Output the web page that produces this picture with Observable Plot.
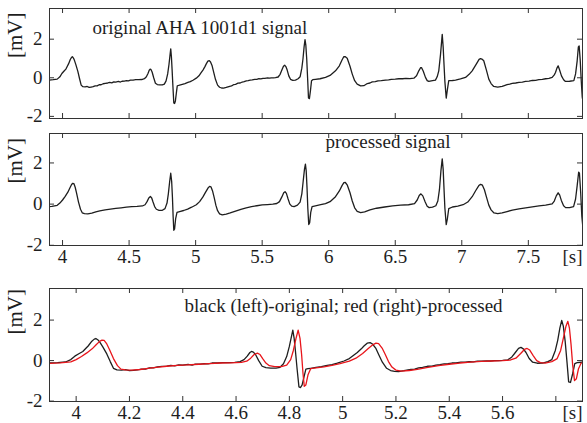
<!DOCTYPE html>
<html>
<head>
<meta charset="utf-8">
<script src="https://cdn.jsdelivr.net/npm/d3@7"></script>
<script src="https://cdn.jsdelivr.net/npm/@observablehq/plot@0.6"></script>
<style>
  body { margin: 0; background: #fff; }
  #chart { width: 587px; height: 423px; position: relative; }
  #chart svg { display: block; }
</style>
</head>
<body>
<div id="chart"></div>
<script>
// ---- data (time in s, amplitude in mV) ----
const origT = [3.900,3.930,3.960,3.980,3.995,4.010,4.025,4.034,4.045,4.059,4.068,4.074,4.082,4.090,4.100,4.115,4.128,4.140,4.153,4.170,4.185,4.200,4.215,4.230,4.245,4.260,4.275,4.290,4.305,4.322,4.340,4.355,4.370,4.385,4.400,4.420,4.435,4.447,4.465,4.480,4.495,4.510,4.530,4.550,4.573,4.595,4.615,4.630,4.642,4.652,4.658,4.665,4.673,4.685,4.698,4.712,4.730,4.750,4.765,4.778,4.790,4.800,4.808,4.813,4.818,4.823,4.829,4.836,4.842,4.848,4.855,4.862,4.870,4.880,4.900,4.920,4.942,4.960,4.980,5.005,5.025,5.040,5.055,5.070,5.080,5.092,5.103,5.112,5.124,5.136,5.149,5.165,5.180,5.195,5.210,5.230,5.256,5.270,5.285,5.300,5.318,5.335,5.350,5.365,5.381,5.395,5.410,5.425,5.444,5.460,5.475,5.490,5.506,5.520,5.540,5.555,5.569,5.585,5.600,5.620,5.635,5.648,5.660,5.669,5.678,5.688,5.700,5.713,5.730,5.750,5.770,5.785,5.798,5.807,5.815,5.822,5.828,5.835,5.842,5.848,5.855,5.863,5.871,5.880,5.900,5.935,5.976,6.010,6.051,6.080,6.100,6.114,6.125,6.139,6.160,6.177,6.195,6.214,6.240,6.264,6.290,6.310,6.327,6.350,6.370,6.395,6.427,6.450,6.470,6.500,6.527,6.555,6.580,6.610,6.640,6.660,6.677,6.690,6.697,6.710,6.727,6.740,6.752,6.780,6.802,6.815,6.827,6.840,6.853,6.860,6.865,6.873,6.883,6.892,6.902,6.930,6.953,6.990,7.028,7.055,7.078,7.110,7.130,7.141,7.155,7.165,7.185,7.203,7.220,7.240,7.270,7.303,7.320,7.340,7.360,7.379,7.405,7.430,7.455,7.479,7.505,7.530,7.555,7.579,7.605,7.630,7.655,7.679,7.695,7.704,7.715,7.724,7.735,7.749,7.765,7.779,7.810,7.842,7.855,7.867,7.876,7.882,7.890,7.898,7.905,7.910];
const origV = [-0.12,-0.10,-0.07,0.05,0.22,0.34,0.45,0.57,0.72,0.96,1.06,1.09,1.02,0.89,0.68,0.33,-0.05,-0.38,-0.46,-0.47,-0.45,-0.50,-0.48,-0.46,-0.42,-0.42,-0.36,-0.36,-0.31,-0.29,-0.27,-0.24,-0.26,-0.21,-0.22,-0.19,-0.22,-0.18,-0.17,-0.15,-0.16,-0.12,-0.12,-0.10,-0.10,-0.09,-0.05,0.05,0.22,0.40,0.45,0.42,0.30,0.00,-0.28,-0.35,-0.37,-0.37,-0.33,-0.16,0.20,0.70,1.20,1.50,1.10,0.45,-0.40,-1.30,-1.33,-1.20,-0.80,-0.42,-0.40,-0.38,-0.34,-0.30,-0.24,-0.20,-0.13,-0.02,0.10,0.25,0.40,0.58,0.72,0.86,0.89,0.82,0.62,0.28,-0.08,-0.38,-0.49,-0.53,-0.54,-0.50,-0.44,-0.42,-0.36,-0.34,-0.28,-0.27,-0.22,-0.20,-0.16,-0.15,-0.12,-0.11,-0.08,-0.08,-0.05,-0.06,-0.03,-0.03,-0.01,-0.02,0.00,0.00,0.01,0.04,0.18,0.40,0.60,0.65,0.58,0.40,0.10,-0.08,-0.13,-0.12,-0.05,0.05,0.50,1.00,1.60,1.98,1.70,0.95,-0.10,-1.05,-1.08,-0.65,-0.15,-0.10,-0.08,-0.05,0.02,0.12,0.36,0.62,0.92,1.10,1.09,1.01,0.60,0.19,-0.15,-0.33,-0.42,-0.41,-0.30,-0.27,-0.21,-0.20,-0.16,-0.15,-0.12,-0.11,-0.08,-0.07,-0.05,-0.05,-0.03,-0.04,-0.02,0.10,0.36,0.52,0.53,0.35,0.02,-0.15,-0.19,-0.15,-0.12,0.05,0.36,1.20,2.25,1.60,0.88,-0.20,-1.05,-0.60,-0.15,-0.14,-0.12,-0.06,0.02,0.18,0.36,0.72,0.95,0.99,0.95,0.88,0.40,-0.07,-0.30,-0.45,-0.48,-0.45,-0.41,-0.36,-0.33,-0.29,-0.27,-0.24,-0.22,-0.19,-0.17,-0.14,-0.13,-0.10,-0.08,-0.05,-0.03,0.02,0.15,0.27,0.50,0.62,0.40,0.10,-0.10,-0.19,-0.18,-0.15,0.20,0.88,1.60,1.65,0.90,-0.20,-1.00,-1.20];

const procT = [3.880,3.920,3.960,3.980,4.000,4.020,4.040,4.055,4.068,4.077,4.085,4.095,4.105,4.120,4.135,4.148,4.165,4.190,4.220,4.250,4.280,4.320,4.360,4.400,4.440,4.480,4.520,4.560,4.600,4.620,4.635,4.648,4.660,4.670,4.680,4.692,4.705,4.725,4.750,4.770,4.785,4.795,4.805,4.813,4.820,4.826,4.831,4.836,4.842,4.850,4.860,4.880,4.910,4.940,4.970,5.005,5.030,5.055,5.075,5.093,5.105,5.115,5.128,5.140,5.152,5.165,5.180,5.200,5.230,5.260,5.300,5.340,5.380,5.420,5.460,5.500,5.540,5.580,5.610,5.630,5.648,5.662,5.672,5.682,5.695,5.708,5.722,5.740,5.765,5.785,5.798,5.808,5.818,5.825,5.831,5.837,5.843,5.850,5.857,5.865,5.875,5.900,5.940,5.976,6.010,6.051,6.080,6.100,6.114,6.125,6.140,6.160,6.177,6.195,6.214,6.240,6.270,6.310,6.360,6.420,6.480,6.540,6.600,6.645,6.665,6.680,6.693,6.707,6.725,6.740,6.755,6.780,6.805,6.820,6.832,6.843,6.853,6.860,6.866,6.873,6.883,6.892,6.902,6.930,6.970,7.010,7.045,7.078,7.105,7.128,7.141,7.155,7.170,7.185,7.203,7.220,7.242,7.270,7.303,7.340,7.380,7.430,7.480,7.530,7.580,7.630,7.679,7.695,7.710,7.724,7.735,7.748,7.765,7.780,7.810,7.840,7.855,7.867,7.878,7.884,7.893,7.902,7.910];
const procV = [-0.14,-0.11,-0.06,0.05,0.20,0.38,0.58,0.78,0.95,1.01,1.00,0.82,0.55,0.10,-0.25,-0.42,-0.46,-0.47,-0.44,-0.38,-0.33,-0.28,-0.24,-0.21,-0.18,-0.15,-0.12,-0.11,-0.09,-0.03,0.12,0.30,0.37,0.30,0.10,-0.12,-0.25,-0.30,-0.30,-0.22,0.05,0.50,1.10,1.50,1.10,0.30,-0.60,-1.27,-1.20,-0.70,-0.40,-0.36,-0.31,-0.24,-0.15,-0.03,0.12,0.35,0.58,0.78,0.86,0.84,0.62,0.30,-0.05,-0.32,-0.47,-0.52,-0.49,-0.43,-0.34,-0.25,-0.18,-0.12,-0.08,-0.04,-0.02,0.00,0.03,0.12,0.35,0.55,0.60,0.52,0.25,0.00,-0.10,-0.12,-0.05,0.10,0.50,1.10,1.70,1.94,1.60,0.80,-0.20,-0.99,-0.90,-0.40,-0.12,-0.08,-0.03,0.02,0.12,0.36,0.64,0.90,1.04,1.05,0.92,0.55,0.15,-0.18,-0.35,-0.41,-0.38,-0.28,-0.20,-0.14,-0.09,-0.05,-0.03,0.02,0.20,0.42,0.50,0.40,0.10,-0.10,-0.17,-0.15,-0.08,0.15,0.70,1.60,2.20,1.70,0.80,-0.20,-1.00,-0.70,-0.22,-0.14,-0.10,-0.03,0.10,0.36,0.66,0.90,0.96,0.92,0.70,0.35,-0.05,-0.28,-0.43,-0.46,-0.43,-0.36,-0.29,-0.23,-0.18,-0.13,-0.09,-0.05,0.01,0.15,0.40,0.55,0.45,0.18,-0.08,-0.17,-0.17,-0.12,0.25,0.90,1.55,1.50,0.60,-0.60,-1.14];

// delay of the red (processed) trace as drawn in the bottom panel, s
const redDelay = 0.02;

const xTicksWide = [4, 4.5, 5, 5.5, 6, 6.5, 7, 7.5];
const xLabelsWide = [4, 4.5, 5, 5.5, 6, 6.5, 7, 7.5];
const xTicksZoom = [4, 4.2, 4.4, 4.6, 4.8, 5, 5.2, 5.4, 5.6, 5.8];
const xLabelsZoom = [4, 4.2, 4.4, 4.6, 4.8, 5, 5.2, 5.4, 5.6];
const yTicks = [-2, 0, 2];
const titles = ["original AHA 1001d1 signal", "processed signal", "black (left)-original; red (right)-processed"];
const yLabel = "[mV]";
const xUnit = "[s]";

const orig = origT.map((t, i) => ({t, v: origV[i]}));
const proc = procT.map((t, i) => ({t, v: procV[i]}));

const W = 587, ML = 49, MR = 5;
const FONT = "Liberation Serif";
const INK = "#1e1e1e";

function panel({height, mt, mb, xDomain, yDomain, xTicks, xLabels, labelDy, lines, title, titleDx, titleDy, ylabDy}) {
  const innerH = height - mt - mb;
  const innerW = W - ML - MR;
  const tk = 5;
  const marks = [
    ...lines,
    Plot.frame({stroke: "#333", strokeWidth: 1}),
    Plot.ruleX(xTicks, {x: d => d, insetTop: innerH - tk, stroke: "#333"}),
    Plot.ruleX(xTicks, {x: d => d, insetBottom: innerH - tk, stroke: "#333"}),
    Plot.ruleY(yTicks, {y: d => d, insetRight: innerW - tk, stroke: "#333"}),
    Plot.ruleY(yTicks, {y: d => d, insetLeft: innerW - tk, stroke: "#333"}),
    Plot.text(yTicks, {y: d => d, frameAnchor: "left", dx: -7, textAnchor: "end", text: d => String(d), fill: INK}),
    Plot.text([yLabel], {frameAnchor: "left", dx: -34, dy: ylabDy, rotate: -90, fontSize: 21, text: d => d, fill: INK}),
    Plot.text([title], {frameAnchor: "top-left", dx: titleDx, dy: titleDy, lineAnchor: "top", textAnchor: "start", text: d => d, fill: INK})
  ];
  if (xLabels) {
    marks.push(Plot.text(xLabels, {x: d => d, frameAnchor: "bottom", dy: labelDy, lineAnchor: "top", text: d => String(d), fill: INK}));
    marks.push(Plot.text([xUnit], {frameAnchor: "bottom-right", dx: -10, dy: labelDy, lineAnchor: "top", textAnchor: "middle", text: d => d, fill: INK}));
  }
  return Plot.plot({
    width: W, height,
    marginLeft: ML, marginRight: MR, marginTop: mt, marginBottom: mb,
    x: {domain: xDomain, axis: null},
    y: {domain: yDomain, axis: null},
    style: {fontFamily: FONT, fontSize: "19px", background: "white", overflow: "visible"},
    marks
  });
}

const chart = document.getElementById("chart");

chart.append(panel({
  height: 125, mt: 8, mb: 7,
  xDomain: [3.902, 7.907], yDomain: [-2.11, 3.59],
  xTicks: xTicksWide, xLabels: null, labelDy: 0,
  lines: [Plot.line(orig, {x: "t", y: "v", stroke: INK, strokeWidth: 1.3, clip: true})],
  title: titles[0], titleDx: 43, titleDy: 11.5, ylabDy: -5.5
}));

chart.append(panel({
  height: 155, mt: 8, mb: 35,
  xDomain: [3.902, 7.907], yDomain: [-2.01, 3.43],
  xTicks: xTicksWide, xLabels: xLabelsWide, labelDy: 3.5,
  lines: [Plot.line(proc, {x: "t", y: "v", stroke: INK, strokeWidth: 1.3, clip: true})],
  title: titles[1], titleDx: 276, titleDy: 0.5, ylabDy: -6
}));

chart.append(panel({
  height: 143, mt: 8, mb: 22,
  xDomain: [3.9, 5.9], yDomain: [-2.02, 3.56],
  xTicks: xTicksZoom, xLabels: xLabelsZoom, labelDy: 4,
  lines: [
    Plot.line(orig, {x: "t", y: "v", stroke: INK, strokeWidth: 1.3, clip: true}),
    Plot.line(proc, {x: d => d.t + redDelay, y: "v", stroke: "#e8151b", strokeWidth: 1.3, clip: true})
  ],
  title: titles[2], titleDx: 135, titleDy: 10, ylabDy: -10.5
}));
</script>
</body>
</html>
